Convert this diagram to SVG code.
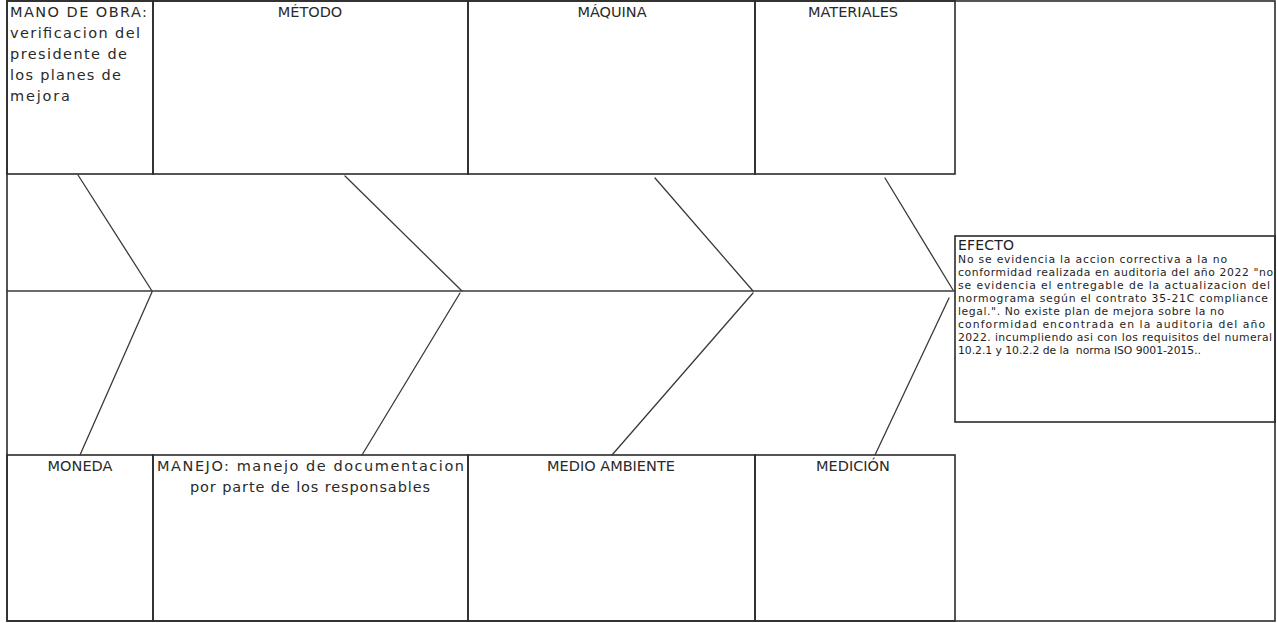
<svg xmlns="http://www.w3.org/2000/svg" width="1277" height="623" viewBox="0 0 1277 623">
<style>
.box{fill:none;stroke:#2b2b2b;stroke-width:1.6}
.ln{fill:none;stroke:#3a3a3a;stroke-width:1.3;stroke-linecap:round}
.t{font-family:"DejaVu Sans","Liberation Sans",sans-serif;font-size:14.5px;fill:#2a2a2a}
.c{text-anchor:middle}
.e{font-family:"DejaVu Sans","Liberation Sans",sans-serif;font-size:10.8px;fill:#1e1e1e}
.eh{font-family:"DejaVu Sans","Liberation Sans",sans-serif;font-size:14px;fill:#1e1e1e}
</style>
<rect x="0" y="0" width="1277" height="623" fill="#ffffff"/>
<rect id="frame" class="box" x="7" y="1" width="1268" height="620"/>

<g id="mano-de-obra">
<rect class="box" x="7" y="1" width="146" height="173"/>
<text class="t" x="10" y="17" textLength="137">MANO DE OBRA:</text>
<text class="t" x="10" y="38" textLength="130">verificacion del</text>
<text class="t" x="10" y="59" textLength="117">presidente de</text>
<text class="t" x="10" y="80" textLength="111">los planes de</text>
<text class="t" x="10" y="101" textLength="60">mejora</text>
</g>
<g id="metodo">
<rect class="box" x="153" y="1" width="315" height="173"/>
<text class="t c" x="310" y="17">MÉTODO</text>
</g>
<g id="maquina">
<rect class="box" x="468" y="1" width="287" height="173"/>
<text class="t c" x="612" y="17">MÁQUINA</text>
</g>
<g id="materiales">
<rect class="box" x="755" y="1" width="200" height="173"/>
<text class="t c" x="853" y="17">MATERIALES</text>
</g>

<g id="moneda">
<rect class="box" x="7" y="455" width="146" height="166"/>
<text class="t c" x="80" y="471">MONEDA</text>
</g>
<g id="manejo">
<rect class="box" x="153" y="455" width="315" height="166"/>
<text class="t" x="157" y="471" textLength="307">MANEJO: manejo de documentacion</text>
<text class="t c" x="310" y="492" textLength="240">por parte de los responsables</text>
</g>
<g id="medio-ambiente">
<rect class="box" x="468" y="455" width="287" height="166"/>
<text class="t c" x="611" y="471">MEDIO AMBIENTE</text>
</g>
<g id="medicion">
<rect class="box" x="755" y="455" width="200" height="166"/>
<text class="t c" x="853" y="471">MEDICIÓN</text>
</g>

<g id="efecto">
<rect class="box" x="955" y="236" width="320" height="186"/>
<text class="eh" x="958" y="250" textLength="56">EFECTO</text>
<text class="e" x="958" y="263" textLength="269">No se evidencia la accion correctiva a la no</text>
<text class="e" x="958" y="276" textLength="315">conformidad realizada en auditoria del año 2022 "no</text>
<text class="e" x="958" y="289" textLength="312">se evidencia el entregable de la actualizacion del</text>
<text class="e" x="958" y="302" textLength="310">normograma según el contrato 35-21C compliance</text>
<text class="e" x="958" y="315" textLength="266">legal.". No existe plan de mejora sobre la no</text>
<text class="e" x="958" y="328" textLength="307">conformidad encontrada en la auditoria del año</text>
<text class="e" x="958" y="341" textLength="314">2022. incumpliendo asi con los requisitos del numeral</text>
<text class="e" x="958" y="354" textLength="243" xml:space="preserve">10.2.1 y 10.2.2 de la  norma ISO 9001-2015..</text>
</g>

<g id="connectors">
<line class="ln" x1="7" y1="291" x2="955" y2="291"/>
<line class="ln" x1="78" y1="175" x2="152" y2="291"/>
<line class="ln" x1="345" y1="176" x2="462" y2="291"/>
<line class="ln" x1="655" y1="178" x2="753" y2="291"/>
<line class="ln" x1="885" y1="178" x2="953" y2="290"/>
<line class="ln" x1="152" y1="292" x2="80" y2="455"/>
<line class="ln" x1="460" y1="293" x2="362" y2="455"/>
<line class="ln" x1="753" y1="293" x2="612" y2="455"/>
<line class="ln" x1="949" y1="298" x2="875" y2="455"/>
</g>
</svg>
